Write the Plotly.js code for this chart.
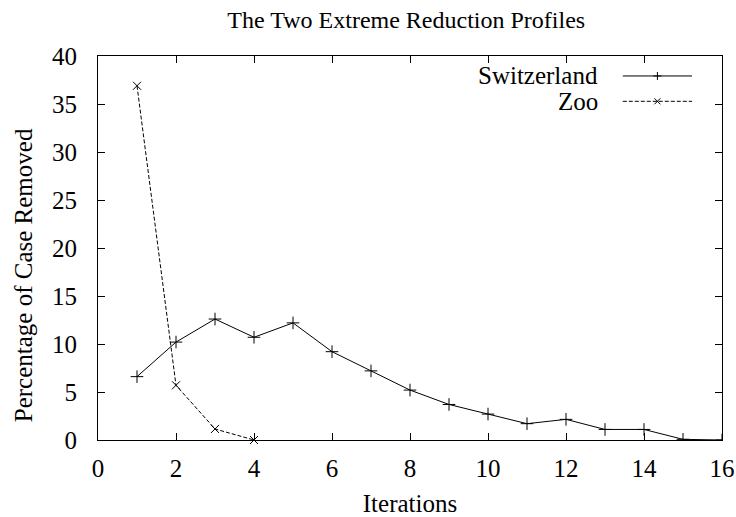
<!DOCTYPE html>
<html>
<head>
<meta charset="utf-8">
<script src="https://cdn.plot.ly/plotly-3.0.1.min.js"></script>
<style>html,body{margin:0;padding:0;background:#fff;}#chart{width:736px;height:517px;}</style>
</head>
<body>
<div id="chart"></div>
<script>
var iterations = [1, 2, 3, 4, 5, 6, 7, 8, 9, 10, 11, 12, 13, 14, 15, 16];
var switzerland = [6.6, 10.2, 12.6, 10.7, 12.2, 9.2, 7.2, 5.2, 3.7, 2.7, 1.7, 2.15, 1.1, 1.1, 0.07, 0];
var zooIter = [1, 2, 3, 4];
var zoo = [36.9, 5.7, 1.15, 0];
var xTicks = [0, 2, 4, 6, 8, 10, 12, 14, 16];
var yTicks = [0, 5, 10, 15, 20, 25, 30, 35, 40];
var seriesNames = ['Switzerland', 'Zoo'];

var FONT = 'Liberation Serif';

var traces = [
  {x: iterations, y: switzerland, name: seriesNames[0], type: 'scatter', mode: 'lines+markers',
   line: {color: '#000', width: 1}, marker: {symbol: 'cross-thin-open', size: 9, line: {color: '#000', width: 1}},
   cliponaxis: true},
  {x: zooIter, y: zoo, name: seriesNames[1], type: 'scatter', mode: 'lines+markers',
   line: {color: '#000', width: 1, dash: '4px,2px'}, marker: {symbol: 'x-thin-open', size: 8, line: {color: '#000', width: 1}},
   cliponaxis: false}
];

var legY = [0.948, 0.882];
var legX0 = 0.841, legX1 = 0.952, legXc = (legX0 + legX1) / 2;
var shapes = [
  {type: 'line', xref: 'paper', yref: 'paper', x0: legX0, x1: legX1, y0: legY[0], y1: legY[0], line: {color: '#000', width: 1}},
  {type: 'line', xref: 'paper', yref: 'paper', x0: legX0, x1: legX1, y0: legY[1], y1: legY[1], line: {color: '#000', width: 1, dash: '4px,2px'}},
  {type: 'line', xref: 'paper', yref: 'paper', xsizemode: 'pixel', ysizemode: 'pixel', xanchor: legXc, yanchor: legY[0], x0: -4, x1: 4, y0: 0, y1: 0, line: {color: '#000', width: 1}},
  {type: 'line', xref: 'paper', yref: 'paper', xsizemode: 'pixel', ysizemode: 'pixel', xanchor: legXc, yanchor: legY[0], x0: 0, x1: 0, y0: -4, y1: 4, line: {color: '#000', width: 1}},
  {type: 'line', xref: 'paper', yref: 'paper', xsizemode: 'pixel', ysizemode: 'pixel', xanchor: legXc, yanchor: legY[1], x0: -3, x1: 3, y0: -3, y1: 3, line: {color: '#000', width: 1}},
  {type: 'line', xref: 'paper', yref: 'paper', xsizemode: 'pixel', ysizemode: 'pixel', xanchor: legXc, yanchor: legY[1], x0: -3, x1: 3, y0: 3, y1: -3, line: {color: '#000', width: 1}}
];

var annotations = [
  {text: seriesNames[0], xref: 'paper', yref: 'paper', x: 0.805, y: legY[0], xanchor: 'right', yanchor: 'middle', showarrow: false, font: {family: FONT, size: 25, color: '#000'}},
  {text: seriesNames[1], xref: 'paper', yref: 'paper', x: 0.805, y: legY[1], xanchor: 'right', yanchor: 'middle', showarrow: false, font: {family: FONT, size: 25, color: '#000'}},
  {text: 'Percentage of Case Removed', xref: 'paper', yref: 'paper', x: -0.118, y: 0.43, xanchor: 'center', yanchor: 'middle', textangle: -90, showarrow: false, font: {family: FONT, size: 25, color: '#000'}}
];

function axisCommon() {
  return {
    showline: true, linecolor: '#000', linewidth: 1, mirror: 'allticks',
    ticks: 'inside', ticklen: 7, tickcolor: '#000', tickwidth: 1,
    showgrid: false, zeroline: false,
    tickfont: {family: FONT, size: 25, color: '#000'}
  };
}

var layout = {
  width: 736, height: 517,
  margin: {l: 98, r: 14, t: 56, b: 77},
  paper_bgcolor: '#fff', plot_bgcolor: '#fff',
  font: {family: FONT, color: '#000'},
  showlegend: false,
  title: {text: 'The Two Extreme Reduction Profiles', font: {family: FONT, size: 24, color: '#000'}, x: 0.552, xanchor: 'center', y: 0.962, yanchor: 'middle'},
  xaxis: Object.assign(axisCommon(), {range: [0, 16], tickvals: xTicks, ticktext: xTicks.map(String), ticklabelstandoff: 6,
    title: {text: 'Iterations', font: {family: FONT, size: 25, color: '#000'}, standoff: 16}}),
  yaxis: Object.assign(axisCommon(), {range: [0, 40], tickvals: yTicks, ticktext: yTicks.map(String), ticklabelstandoff: 15}),
  shapes: shapes,
  annotations: annotations
};

Plotly.newPlot('chart', traces, layout, {displayModeBar: false});
</script>
</body>
</html>
